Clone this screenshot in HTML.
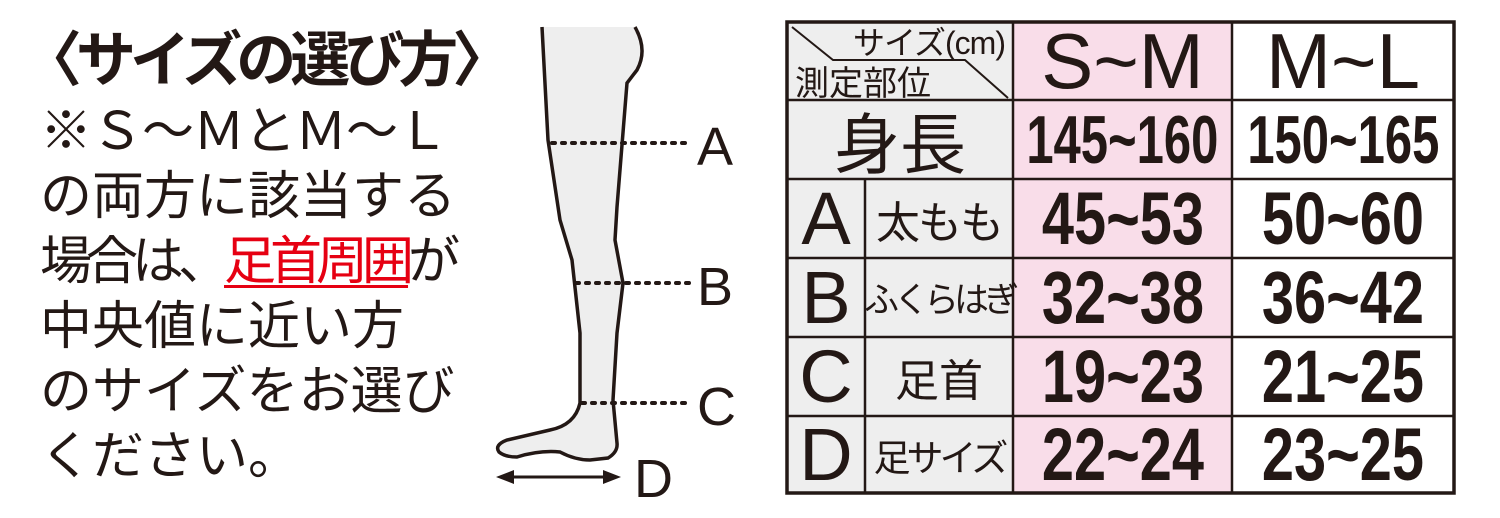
<!DOCTYPE html>
<html><head><meta charset="utf-8"><style>
body{margin:0;width:1500px;height:518px;background:#fff;position:relative;overflow:hidden;font-family:"Liberation Sans","Noto Sans CJK JP",sans-serif;color:#231815}
.t{position:absolute;left:40px;font-size:52px;line-height:65px;white-space:nowrap}
.c{position:absolute;display:flex;align-items:center;justify-content:center;white-space:nowrap}
.n{font-weight:bold;font-size:74px;display:inline-block;transform:scaleX(.78);font-family:"Liberation Sans Narrow","Liberation Sans",sans-serif}
.bg{position:absolute}
</style></head><body>
<div class="t" style="top:26px;font-weight:bold;font-size:60px;left:22px;letter-spacing:-6px;line-height:70px">〈サイズの選び方〉</div>
<div class="t" style="top:100px;letter-spacing:-1px">※Ｓ〜ＭとＭ〜Ｌ</div>
<div class="t" style="top:165px">の両方に該当する</div>
<div class="t" style="top:230px;letter-spacing:-6px">場合は、<span style="color:#e60012;text-decoration:underline;text-decoration-thickness:3px;text-underline-offset:6px">足首周囲</span>が</div>
<div class="t" style="top:295px">中央値に近い方</div>
<div class="t" style="top:360px">のサイズをお選び</div>
<div class="t" style="top:425px">ください。</div>

<svg style="position:absolute;left:0;top:0" width="1500" height="518">
<path d="M542,27 L548,140 L560,220 L572,260 L580,333 L580,403 Q575,425 550,430 L507,440 Q494,445 499,452 Q505,457 517,457 Q540,450 560,452 Q575,460 590,460 L608,458 Q618,452 617,443 L613,400 L617,333 L623,283 L615,240 L617,207 L627,83 L637,70 Q648,50 635,27 Z" fill="#eeeeee" stroke="none"/>
<path d="M542,27 L548,140 L560,220 L572,260 L580,333 L580,403 Q575,425 550,430 L507,440 Q494,445 499,452 Q505,457 517,457 Q540,450 560,452 Q575,460 590,460 L608,458 Q618,452 617,443 L613,400 L617,333 L623,283 L615,240 L617,207 L627,83 L637,70 Q648,50 635,27" fill="none" stroke="#231815" stroke-width="3.5"/>
<g stroke="#231815" stroke-width="4" stroke-dasharray="3,7" stroke-linecap="round">
<line x1="552" y1="143" x2="690" y2="143"/><line x1="576" y1="283" x2="690" y2="283"/><line x1="582" y1="403" x2="690" y2="403"/></g>
<line x1="505" y1="477" x2="612" y2="477" stroke="#231815" stroke-width="3"/>
<polygon points="496,477 514,470 514,484" fill="#231815"/><polygon points="621,477 603,470 603,484" fill="#231815"/>
<g font-size="54" fill="#231815" font-family="Liberation Sans"><text x="697" y="165">A</text><text x="697" y="305">B</text><text x="697" y="425">C</text><text x="634" y="497">D</text></g>
</svg>

<div class="bg" style="left:787px;top:22px;width:226px;height:472px;background:#eeeeee"></div>
<div class="bg" style="left:1013px;top:22px;width:219px;height:472px;background:#f9dde9"></div>
<svg style="position:absolute;left:0;top:0" width="1500" height="518">
<g stroke="#231815" fill="none">
<rect x="787" y="22" width="667" height="471" stroke-width="3.5"/>
<g stroke-width="2.5">
<line x1="1013" y1="22" x2="1013" y2="493"/><line x1="1232" y1="22" x2="1232" y2="493"/>
<line x1="865" y1="179" x2="865" y2="493"/>
<line x1="787" y1="100" x2="1454" y2="100"/><line x1="787" y1="179" x2="1454" y2="179"/>
<line x1="787" y1="258" x2="1454" y2="258"/><line x1="787" y1="337" x2="1454" y2="337"/>
<line x1="787" y1="416" x2="1454" y2="416"/>
<polyline points="792,27 833,60 965,60 1008,98" stroke-width="2"/></g></g></svg>

<div class="c" style="left:835px;top:22px;width:170px;height:38px;justify-content:flex-end;font-size:32px;letter-spacing:-1px">サイズ(cm)</div>
<div class="c" style="left:795px;top:61px;width:160px;height:38px;justify-content:flex-start;font-size:34px">測定部位</div>
<div class="c" style="left:1013px;top:22px;width:219px;height:78px;font-size:78px">S~M</div>
<div class="c" style="left:1232px;top:22px;width:222px;height:78px;font-size:78px">M~L</div>
<div class="c" style="left:787px;top:100px;width:226px;height:79px;font-size:66px">身長</div>
<div class="c" style="left:1013px;top:100px;width:219px;height:79px"><span class="n" style="font-size:68px;transform:scaleX(.72)">145~160</span></div>
<div class="c" style="left:1232px;top:100px;width:222px;height:79px"><span class="n" style="font-size:68px;transform:scaleX(.72)">150~165</span></div>

<div class="c" style="left:787px;top:179px;width:78px;height:79px;font-size:74px">A</div>
<div class="c" style="left:865px;top:179px;width:148px;height:79px;font-size:44px;letter-spacing:-2px">太もも</div>
<div class="c" style="left:1013px;top:179px;width:219px;height:79px"><span class="n">45~53</span></div>
<div class="c" style="left:1232px;top:179px;width:222px;height:79px"><span class="n">50~60</span></div>

<div class="c" style="left:787px;top:258px;width:78px;height:79px;font-size:74px">B</div>
<div class="c" style="left:865px;top:258px;width:148px;height:79px;font-size:35px;letter-spacing:-5px">ふくらはぎ</div>
<div class="c" style="left:1013px;top:258px;width:219px;height:79px"><span class="n">32~38</span></div>
<div class="c" style="left:1232px;top:258px;width:222px;height:79px"><span class="n">36~42</span></div>

<div class="c" style="left:787px;top:337px;width:78px;height:79px;font-size:74px">C</div>
<div class="c" style="left:865px;top:337px;width:148px;height:79px;font-size:44px">足首</div>
<div class="c" style="left:1013px;top:337px;width:219px;height:79px"><span class="n">19~23</span></div>
<div class="c" style="left:1232px;top:337px;width:222px;height:79px"><span class="n">21~25</span></div>

<div class="c" style="left:787px;top:416px;width:78px;height:77px;font-size:74px">D</div>
<div class="c" style="left:865px;top:416px;width:148px;height:77px;font-size:37px;letter-spacing:-4px">足サイズ</div>
<div class="c" style="left:1013px;top:416px;width:219px;height:77px"><span class="n">22~24</span></div>
<div class="c" style="left:1232px;top:416px;width:222px;height:77px"><span class="n">23~25</span></div>
</body></html>
